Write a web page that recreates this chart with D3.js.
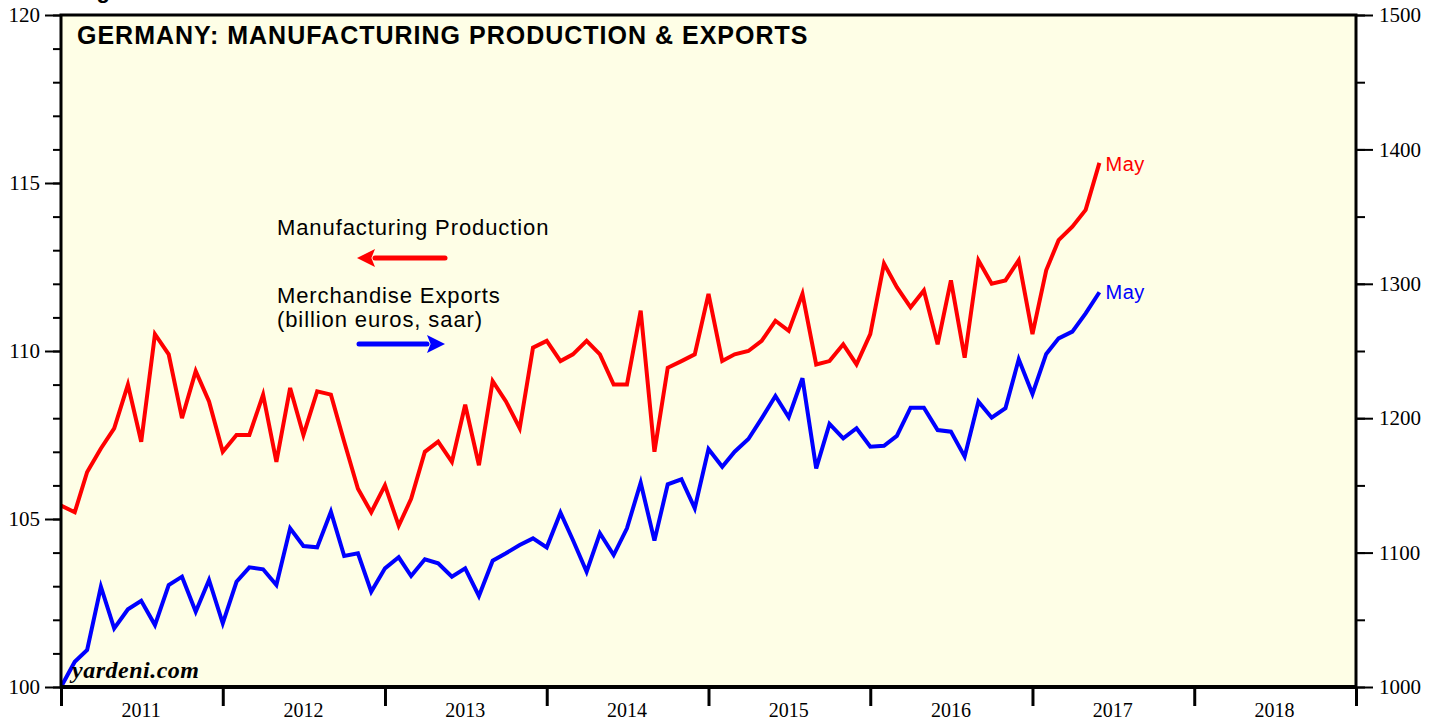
<!DOCTYPE html>
<html>
<head>
<meta charset="utf-8">
<script src="https://cdn.jsdelivr.net/npm/d3@7"></script>
<style>
  body { margin: 0; background: #fff; }
  svg { display: block; }
</style>
</head>
<body>
<div id="chart"></div>
<script>
// monthly values, Dec 2010 .. May 2017 (plotted at month end)
const production = [105.4, 105.2, 106.4, 107.1, 107.7, 109.0, 107.3, 110.5, 109.9, 108.0,
  109.4, 108.5, 107.0, 107.5, 107.5, 108.7, 106.7, 108.9, 107.5, 108.8,
  108.7, 107.3, 105.9, 105.2, 106.0, 104.8, 105.6, 107.0, 107.3, 106.7,
  108.4, 106.6, 109.1, 108.5, 107.7, 110.1, 110.3, 109.7, 109.9, 110.3,
  109.9, 109.0, 109.0, 111.2, 107.0, 109.5, 109.7, 109.9, 111.7, 109.7,
  109.9, 110.0, 110.3, 110.9, 110.6, 111.7, 109.6, 109.7, 110.2, 109.6,
  110.5, 112.6, 111.9, 111.3, 111.8, 110.2, 112.1, 109.8, 112.7, 112.0,
  112.1, 112.7, 110.5, 112.4, 113.3, 113.7, 114.2, 115.6];

const exports = [1000, 1018.8, 1027.5, 1074.6, 1043.6, 1057.8, 1064.2, 1046.1, 1075.9, 1082.1,
  1056.0, 1079.6, 1047.4, 1078.3, 1089.0, 1087.6, 1075.9, 1118.1, 1104.9, 1103.9,
  1130.4, 1097.5, 1099.5, 1070.9, 1088.3, 1096.5, 1082.6, 1095.0, 1092.0, 1082.1,
  1088.3, 1067.7, 1094.0, 1099.5, 1105.7, 1110.6, 1103.9, 1129.7, 1109.4, 1085.8,
  1114.4, 1098.2, 1118.1, 1152.0, 1108.9, 1150.8, 1154.5, 1133.0, 1177.1, 1163.9,
  1175.1, 1184.5, 1199.9, 1216.5, 1200.7, 1229.7, 1162.7, 1195.7, 1185.0, 1192.5,
  1178.8, 1179.5, 1186.8, 1207.8, 1207.8, 1191.2, 1190.0, 1171.4, 1212.3, 1200.4,
  1207.4, 1243.8, 1218.0, 1247.8, 1259.4, 1264.4, 1278.0, 1293.7];

const years = ["2011", "2012", "2013", "2014", "2015", "2016", "2017", "2018"];
const leftTicks = [100, 105, 110, 115, 120];
const rightTicks = [1000, 1100, 1200, 1300, 1400, 1500];

const width = 1438, height = 721;
const margin = {top: 15, right: 82, bottom: 34, left: 61};
const pw = width - margin.left - margin.right,
  ph = height - margin.top - margin.bottom;

const months = d3.timeMonth.range(new Date(2011, 0, 1), new Date(2017, 5, 2));

const x = d3.scaleTime()
  .domain([new Date(2011, 0, 1), new Date(2019, 0, 1)])
  .range([0, pw]);
const yL = d3.scaleLinear().domain([100, 120]).range([ph, 0]);
const yR = d3.scaleLinear().domain([1000, 1500]).range([ph, 0]);

const svg = d3.select("#chart").append("svg")
  .attr("width", width)
  .attr("height", height);

// heading above the frame, mostly cut off in the original
svg.append("text")
  .attr("x", 77).attr("y", -2)
  .attr("font-family", "Liberation Sans, Arial, sans-serif")
  .attr("font-weight", "bold")
  .attr("font-size", 22)
  .text("Figure 1.");

const g = svg.append("g").attr("transform", `translate(${margin.left},${margin.top})`);

g.append("rect")
  .attr("width", pw).attr("height", ph)
  .attr("fill", "#fefee6");

g.append("clipPath").attr("id", "clip")
  .append("rect").attr("width", pw).attr("height", ph);

const serif = "Liberation Serif, Times New Roman, serif";
const sans = "Liberation Sans, Arial, Helvetica, sans-serif";

// minor ticks
g.append("g")
  .call(d3.axisLeft(yL).tickValues(d3.range(100, 121, 1)).tickSize(8).tickFormat(""))
  .call(a => a.select(".domain").remove());
g.append("g")
  .attr("transform", `translate(${pw},0)`)
  .call(d3.axisRight(yR).tickValues(d3.range(1000, 1501, 50)).tickSize(9).tickFormat(""))
  .call(a => a.select(".domain").remove());

// major ticks + labels
const left = g.append("g")
  .call(d3.axisLeft(yL).tickValues(leftTicks).tickSize(16).tickPadding(5).tickFormat(d3.format("d")));
left.select(".domain").remove();
left.selectAll("text").attr("font-family", serif).attr("font-size", 21).attr("fill", "#000");

const right = g.append("g")
  .attr("transform", `translate(${pw},0)`)
  .call(d3.axisRight(yR).tickValues(rightTicks).tickSize(17).tickPadding(6).tickFormat(d3.format("d")));
right.select(".domain").remove();
right.selectAll("text").attr("font-family", serif).attr("font-size", 21).attr("fill", "#000");

g.selectAll(".tick line").attr("stroke", "#000").attr("stroke-width", 2);

const bottom = g.append("g")
  .attr("transform", `translate(0,${ph})`)
  .call(d3.axisBottom(x).ticks(d3.timeYear.every(1)).tickSize(19).tickFormat(""));
bottom.select(".domain").remove();
bottom.selectAll(".tick line").attr("stroke", "#000").attr("stroke-width", 3);

g.append("g").selectAll("text")
  .data(years)
  .join("text")
  .attr("x", d => x(new Date(+d, 6, 1)))
  .attr("y", ph + 30)
  .attr("text-anchor", "middle")
  .attr("font-family", serif)
  .attr("font-size", 20)
  .text(d => d);

// series
const line = (y) => d3.line()
  .x((d, i) => x(months[i]))
  .y(d => y(d));

const lines = g.append("g").attr("clip-path", "url(#clip)");
lines.append("path")
  .datum(production)
  .attr("fill", "none")
  .attr("stroke", "#ff0000")
  .attr("stroke-width", 4)
  .attr("d", line(yL));
lines.append("path")
  .datum(exports)
  .attr("fill", "none")
  .attr("stroke", "#0000ff")
  .attr("stroke-width", 4)
  .attr("d", line(yR));

// end labels
const last = months.length - 1;
g.append("text")
  .attr("x", x(months[last]) + 6)
  .attr("y", yL(production[last]) + 8)
  .attr("font-family", sans).attr("font-size", 20).attr("letter-spacing", 0.6)
  .attr("fill", "#ff0000").text("May");
g.append("text")
  .attr("x", x(months[last]) + 6)
  .attr("y", yR(exports[last]) + 7)
  .attr("font-family", sans).attr("font-size", 20).attr("letter-spacing", 0.6)
  .attr("fill", "#0000ff").text("May");

// frame
g.append("rect")
  .attr("width", pw).attr("height", ph)
  .attr("fill", "none")
  .attr("stroke", "#000")
  .attr("stroke-width", 3);
g.append("line")
  .attr("x1", 0).attr("x2", pw)
  .attr("y1", ph).attr("y2", ph)
  .attr("stroke", "#000").attr("stroke-width", 4);

// title
g.append("text")
  .attr("x", 16).attr("y", 29)
  .attr("font-family", sans)
  .attr("font-weight", "bold")
  .attr("font-size", 25)
  .attr("letter-spacing", 1)
  .text("GERMANY: MANUFACTURING PRODUCTION & EXPORTS");

// legend
const legend = g.append("g").attr("font-family", sans).attr("font-size", 22).attr("letter-spacing", 0.9);
legend.append("text").attr("x", 216).attr("y", 220).text("Manufacturing Production");
legend.append("text").attr("x", 216).attr("y", 288).text("Merchandise Exports");
legend.append("text").attr("x", 216).attr("y", 312).text("(billion euros, saar)");

const defs = svg.append("defs");
[["red", "#ff0000"], ["blue", "#0000ff"]].forEach(([id, c]) => {
  defs.append("marker")
    .attr("id", "arrow-" + id)
    .attr("viewBox", "0 0 10 10")
    .attr("refX", 0).attr("refY", 5)
    .attr("markerWidth", 5.5).attr("markerHeight", 3.6)
    .attr("markerUnits", "strokeWidth")
    .attr("orient", "auto")
    .append("path").attr("d", "M0,0L10,5L0,10L2,5Z").attr("fill", c);
});
legend.append("line")
  .attr("x1", 384).attr("x2", 314)
  .attr("y1", 243).attr("y2", 243)
  .attr("stroke", "#ff0000").attr("stroke-width", 5)
  .attr("stroke-linecap", "round")
  .attr("marker-end", "url(#arrow-red)");
legend.append("line")
  .attr("x1", 298).attr("x2", 366)
  .attr("y1", 329).attr("y2", 329)
  .attr("stroke", "#0000ff").attr("stroke-width", 5)
  .attr("stroke-linecap", "round")
  .attr("marker-end", "url(#arrow-blue)");

// watermark
g.append("text")
  .attr("x", 11).attr("y", ph - 9)
  .attr("font-family", serif)
  .attr("font-weight", "bold")
  .attr("font-style", "italic")
  .attr("font-size", 24)
  .attr("letter-spacing", 0.5)
  .text("yardeni.com");
</script>
</body>
</html>
